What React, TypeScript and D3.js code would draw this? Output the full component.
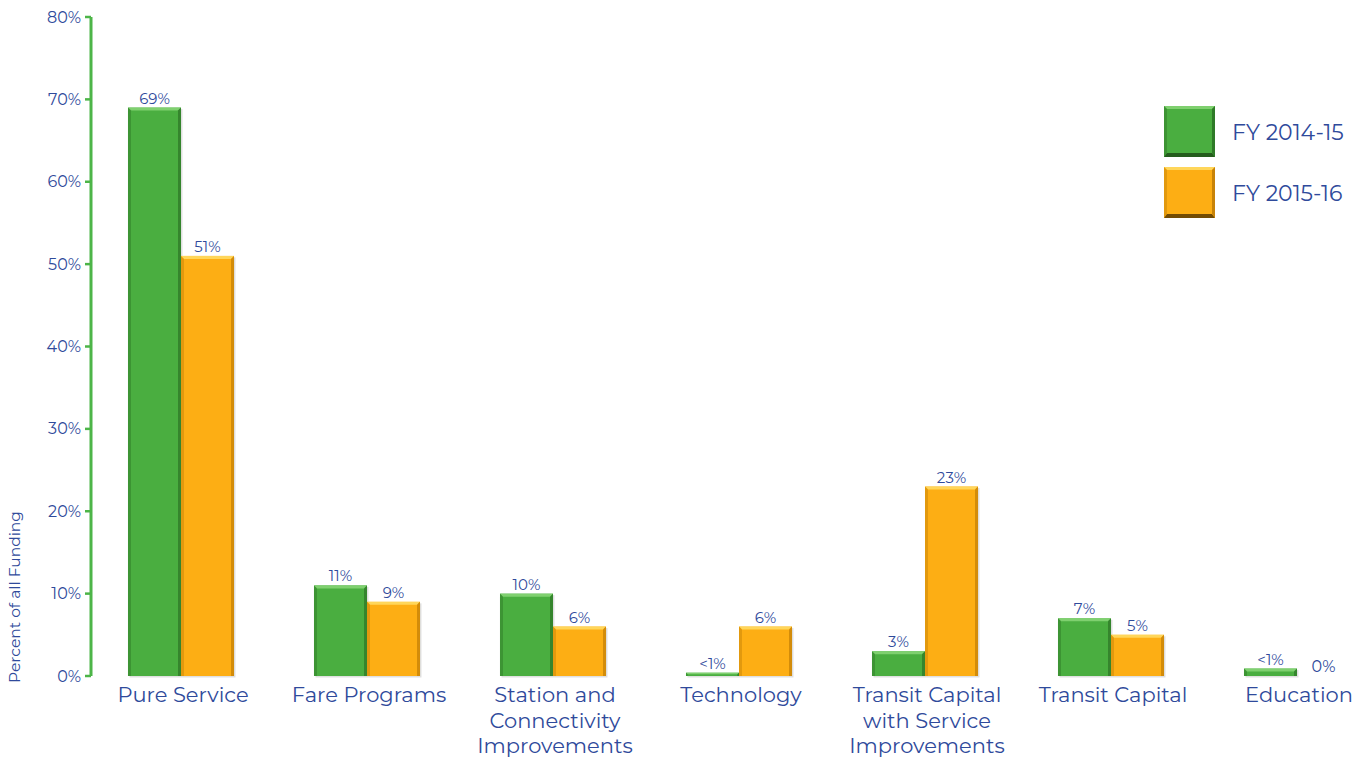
import React from "react";
import * as d3 from "d3";

const categories = [
  ["Pure Service"],
  ["Fare Programs"],
  ["Station and", "Connectivity", "Improvements"],
  ["Technology"],
  ["Transit Capital", "with Service", "Improvements"],
  ["Transit Capital"],
  ["Education"],
];
const series = ["FY 2014-15", "FY 2015-16"];
const fy1415 = [69, 11, 10, 0.4, 3, 7, 0.9];
const fy1516 = [51, 9, 6, 6, 23, 5, 0];
const labels1415 = ["69%", "11%", "10%", "<1%", "3%", "7%", "<1%"];
const labels1516 = ["51%", "9%", "6%", "6%", "23%", "5%", "0%"];
const yTicks = [0, 10, 20, 30, 40, 50, 60, 70, 80];

const W = 1356;
const H = 757;
const TXT = "#2f4a9b";
const FONT = "Montserrat, Lato, 'Open Sans', sans-serif";

const colors = [
  { base: "#4aae40", light: "#7fd06f", dark: "#2f7a28", edge: "#1e4d18" },
  { base: "#fdae14", light: "#ffd65a", dark: "#c88308", edge: "#5a3a00" },
];

function Bar({ x, y, w, h, c }: { x: number; y: number; w: number; h: number; c: any }) {
  if (h <= 0) return null;
  const b = Math.min(3, h / 2);
  return (
    <g>
      <rect x={x + 1.5} y={y + 1.5} width={w} height={h} fill="#000" opacity={0.12} />
      <rect x={x} y={y} width={w} height={h} fill={c.base} />
      <polygon points={`${x},${y} ${x + w},${y} ${x + w - b},${y + b} ${x + b},${y + b}`} fill={c.light} />
      <polygon points={`${x},${y} ${x + b},${y + b} ${x + b},${y + h} ${x},${y + h}`} fill={c.dark} opacity={0.5} />
      <polygon points={`${x + w},${y} ${x + w - b},${y + b} ${x + w - b},${y + h} ${x + w},${y + h}`} fill={c.dark} opacity={0.8} />
    </g>
  );
}

export default function App() {
  const y = d3.scaleLinear().domain([0, 80]).range([676, 17]);
  const x = d3
    .scaleBand<number>()
    .domain(d3.range(categories.length))
    .range([88, 88 + 7 * 186])
    .paddingInner(0.43)
    .paddingOuter(0.215);
  const bw = x.bandwidth() / 2;
  const data = [fy1415, fy1516];
  const lbls = [labels1415, labels1516];

  return (
    <svg width={W} height={H} style={{ position: "absolute", left: 0, top: 0, background: "#fff" }} fontFamily={FONT}>
      <line x1={91} x2={91} y1={y(80)} y2={y(0)} stroke="#4db548" strokeWidth={3} />
      {yTicks.map((t) => (
        <g key={t}>
          <line x1={85} x2={91} y1={y(t)} y2={y(t)} stroke="#4db548" strokeWidth={2.5} />
          <text x={81} y={y(t)} dy="0.35em" textAnchor="end" fontSize={16} fill={TXT}>
            {t}%
          </text>
        </g>
      ))}
      <text transform={`translate(20,${597}) rotate(-90)`} textAnchor="middle" fontSize={15.5} fill={TXT}>
        Percent of all Funding
      </text>

      {categories.map((cat, i) =>
        data.map((vals, s) => {
          const bx = (x(i) as number) + s * bw;
          const by = y(vals[i]);
          const h = y(0) - by;
          return (
            <g key={`${i}-${s}`}>
              <Bar x={bx} y={by} w={bw} h={h} c={colors[s]} />
              {vals[i] === 0 ? (
                <text x={bx + bw / 2} y={y(0) - 4} textAnchor="middle" fontSize={16} fill={TXT}>
                  {lbls[s][i]}
                </text>
              ) : (
                <text x={bx + bw / 2} y={by - 4} textAnchor="middle" fontSize={15} fill={TXT}>
                  {lbls[s][i]}
                </text>
              )}
            </g>
          );
        })
      )}

      {categories.map((lines, i) => {
        const cx = (x(i) as number) + x.bandwidth() / 2 + 2;
        return (
          <text key={i} x={cx} y={702} textAnchor="middle" fontSize={21} fill={TXT}>
            {lines.map((l, k) => (
              <tspan key={k} x={cx} dy={k === 0 ? 0 : 25.5}>
                {l}
              </tspan>
            ))}
          </text>
        );
      })}

      {series.map((s, k) => {
        const ly = 106 + k * 61;
        const c = colors[k];
        return (
          <g key={s}>
            <rect x={1164} y={ly} width={51} height={51} fill={c.base} />
            <polygon points={`1164,${ly} 1215,${ly} 1212,${ly + 3} 1167,${ly + 3}`} fill={c.light} />
            <polygon points={`1164,${ly + 51} 1215,${ly + 51} 1212,${ly + 47} 1167,${ly + 47}`} fill={c.edge} opacity={0.85} />
            <polygon points={`1215,${ly} 1215,${ly + 51} 1212,${ly + 47} 1212,${ly + 3}`} fill={c.dark} />
            <polygon points={`1164,${ly} 1164,${ly + 51} 1167,${ly + 47} 1167,${ly + 3}`} fill={c.dark} opacity={0.5} />
            <text x={1232} y={ly + 26} dy="0.35em" fontSize={22} fill={TXT}>
              {s}
            </text>
          </g>
        );
      })}
    </svg>
  );
}
